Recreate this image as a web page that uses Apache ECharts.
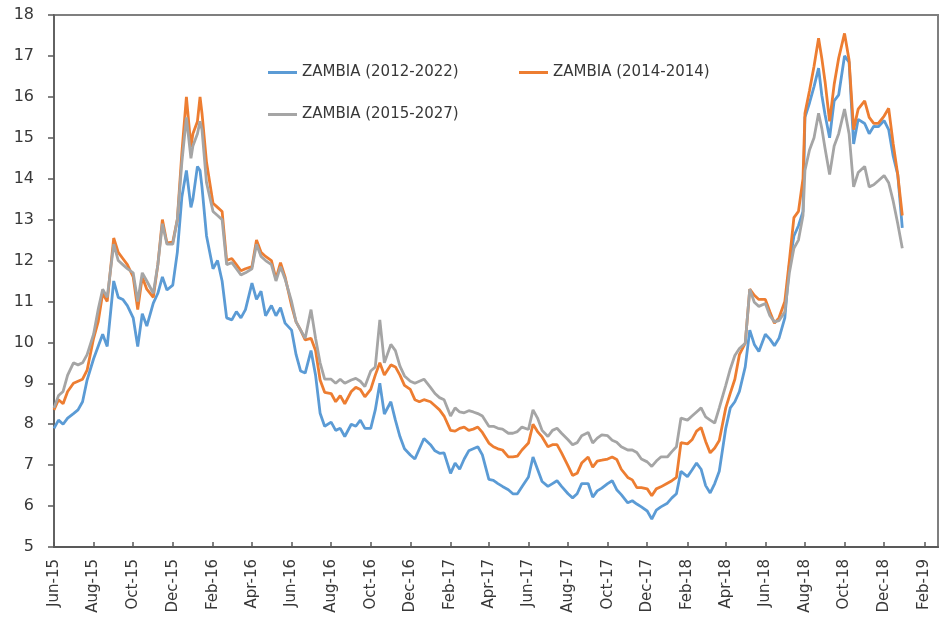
<!DOCTYPE html>
<html><head><meta charset="utf-8">
<script src="https://cdn.jsdelivr.net/npm/echarts@6/dist/echarts.min.js"></script>
<style>html,body{margin:0;padding:0;background:#fff}#c{width:945px;height:618px}</style>
</head><body><div id="c"></div>
<script>
const seriesNames = ['ZAMBIA (2012-2022)', 'ZAMBIA (2014-2014)', 'ZAMBIA (2015-2027)'];
const seriesColors = ['#5B9BD5', '#ED7D31', '#A5A5A5'];

const dates = [
'2015-06-01','2015-06-08','2015-06-15','2015-06-22','2015-07-01','2015-07-08','2015-07-15','2015-07-22',
'2015-08-01','2015-08-08','2015-08-15','2015-08-22','2015-09-01','2015-09-08','2015-09-15','2015-09-22',
'2015-10-01','2015-10-08','2015-10-15','2015-10-22','2015-11-01','2015-11-08','2015-11-15','2015-11-22',
'2015-12-01','2015-12-08','2015-12-15','2015-12-22','2015-12-29','2016-01-01','2016-01-08','2016-01-12','2016-01-15','2016-01-22',
'2016-02-01','2016-02-08','2016-02-15','2016-02-22','2016-03-01','2016-03-08','2016-03-15','2016-03-22',
'2016-04-01','2016-04-08','2016-04-15','2016-04-22','2016-05-01','2016-05-08','2016-05-15','2016-05-22',
'2016-06-01','2016-06-08','2016-06-15','2016-06-22','2016-07-01','2016-07-08','2016-07-15','2016-07-22',
'2016-08-01','2016-08-08','2016-08-15','2016-08-22','2016-09-01','2016-09-08','2016-09-15','2016-09-22',
'2016-10-01','2016-10-08','2016-10-15','2016-10-22','2016-11-01','2016-11-08','2016-11-15','2016-11-22',
'2016-12-01','2016-12-08','2016-12-15','2016-12-22','2017-01-01','2017-01-08','2017-01-15','2017-01-22',
'2017-02-01','2017-02-08','2017-02-15','2017-02-22','2017-03-01','2017-03-08','2017-03-15','2017-03-22',
'2017-04-01','2017-04-08','2017-04-15','2017-04-22','2017-05-01','2017-05-08','2017-05-15','2017-05-22',
'2017-06-01','2017-06-08','2017-06-15','2017-06-22','2017-07-01','2017-07-08','2017-07-15','2017-07-22',
'2017-08-01','2017-08-08','2017-08-15','2017-08-22','2017-09-01','2017-09-08','2017-09-15','2017-09-22',
'2017-10-01','2017-10-08','2017-10-15','2017-10-22','2017-11-01','2017-11-08','2017-11-15','2017-11-22',
'2017-12-01','2017-12-08','2017-12-15','2017-12-22','2018-01-01','2018-01-08','2018-01-15','2018-01-22',
'2018-02-01','2018-02-08','2018-02-15','2018-02-22','2018-03-01','2018-03-08','2018-03-15','2018-03-22',
'2018-04-01','2018-04-08','2018-04-15','2018-04-22','2018-05-01','2018-05-08','2018-05-15','2018-05-22',
'2018-06-01','2018-06-08','2018-06-15','2018-06-22','2018-07-01','2018-07-08','2018-07-15','2018-07-22','2018-07-29',
'2018-08-01','2018-08-08','2018-08-15','2018-08-22','2018-08-27','2018-09-01','2018-09-08','2018-09-15','2018-09-22',
'2018-10-01','2018-10-08','2018-10-15','2018-10-22','2018-11-01','2018-11-08','2018-11-15','2018-11-22',
'2018-12-01','2018-12-08','2018-12-15','2018-12-22','2018-12-29'
];

const zambia2012_2022 = [
7.9,8.1,8.0,8.15,8.26,8.35,8.55,9.08,
9.6,9.9,10.2,9.9,11.5,11.1,11.05,10.9,
10.6,9.9,10.7,10.4,10.96,11.2,11.6,11.28,
11.4,12.2,13.55,14.2,13.3,13.5,14.3,14.2,13.8,12.6,
11.8,12.0,11.5,10.6,10.55,10.75,10.6,10.8,
11.45,11.05,11.25,10.65,10.9,10.65,10.85,10.47,
10.3,9.7,9.3,9.25,9.8,9.2,8.27,7.95,
8.05,7.85,7.9,7.7,8.0,7.95,8.1,7.9,
7.9,8.35,9.0,8.25,8.55,8.1,7.7,7.4,
7.25,7.15,7.4,7.65,7.5,7.35,7.29,7.3,
6.8,7.05,6.9,7.15,7.35,7.4,7.45,7.25,
6.65,6.63,6.55,6.48,6.4,6.3,6.3,6.47,
6.71,7.2,6.9,6.6,6.48,6.55,6.62,6.48,
6.3,6.2,6.3,6.55,6.55,6.22,6.37,6.44,
6.55,6.62,6.4,6.28,6.08,6.13,6.05,5.98,
5.88,5.68,5.9,5.98,6.07,6.2,6.3,6.85,
6.72,6.88,7.05,6.9,6.5,6.32,6.55,6.85,
7.9,8.4,8.55,8.8,9.4,10.3,9.95,9.78,
10.2,10.08,9.92,10.1,10.6,11.9,12.6,12.85,13.2,
15.5,15.85,16.25,16.7,16.04,15.56,15.0,15.9,16.05,
17.0,16.85,14.85,15.45,15.35,15.1,15.28,15.27,
15.42,15.2,14.55,14.1,12.8
];

const zambia2014_2014 = [
8.35,8.6,8.5,8.8,9.0,9.05,9.1,9.32,
10.1,10.5,11.2,11.0,12.55,12.2,12.05,11.9,
11.6,10.8,11.6,11.3,11.1,11.9,13.0,12.43,
12.45,13.0,14.63,16.0,14.78,15.1,15.4,16.0,15.6,14.4,
13.4,13.3,13.2,12.0,12.05,11.9,11.75,11.8,
11.85,12.5,12.2,12.1,12.0,11.55,11.95,11.6,
10.9,10.5,10.3,10.06,10.1,9.8,9.08,8.78,
8.75,8.55,8.7,8.5,8.8,8.9,8.85,8.67,
8.85,9.2,9.5,9.2,9.45,9.4,9.2,8.95,
8.85,8.6,8.55,8.6,8.55,8.45,8.35,8.2,
7.85,7.83,7.9,7.93,7.85,7.88,7.93,7.8,
7.54,7.45,7.4,7.37,7.2,7.2,7.22,7.37,
7.54,8.0,7.82,7.69,7.45,7.5,7.5,7.3,
6.98,6.75,6.8,7.05,7.2,6.95,7.1,7.12,
7.15,7.2,7.14,6.9,6.7,6.64,6.45,6.45,
6.42,6.25,6.42,6.47,6.56,6.62,6.7,7.55,
7.52,7.62,7.83,7.92,7.58,7.3,7.42,7.6,
8.4,8.76,9.1,9.7,9.98,11.3,11.15,11.05,
11.05,10.75,10.47,10.6,11.0,12.0,13.05,13.2,14.0,
15.6,16.15,16.75,17.43,16.94,16.37,15.4,16.3,16.95,
17.55,16.9,15.2,15.7,15.9,15.5,15.35,15.35,
15.53,15.72,14.85,14.1,13.1
];

const zambia2015_2027 = [
8.4,8.7,8.8,9.2,9.5,9.45,9.5,9.7,
10.2,10.8,11.3,11.1,12.4,12.0,11.9,11.8,
11.7,11.0,11.7,11.5,11.2,11.9,12.9,12.4,
12.4,13.0,14.4,15.5,14.5,14.8,15.1,15.4,15.2,13.9,
13.2,13.1,13.0,11.9,11.95,11.8,11.65,11.7,
11.8,12.4,12.1,12.0,11.9,11.5,11.85,11.55,
11.0,10.5,10.3,10.1,10.8,10.1,9.5,9.1,
9.1,9.0,9.1,9.0,9.08,9.12,9.05,8.92,
9.3,9.4,10.55,9.5,9.95,9.8,9.42,9.18,
9.05,9.0,9.05,9.1,8.9,8.75,8.65,8.6,
8.2,8.4,8.3,8.28,8.33,8.3,8.26,8.2,
7.95,7.95,7.9,7.88,7.78,7.78,7.82,7.93,
7.87,8.35,8.15,7.85,7.7,7.85,7.9,7.78,
7.62,7.5,7.55,7.72,7.8,7.54,7.66,7.74,
7.72,7.61,7.56,7.45,7.37,7.37,7.31,7.15,
7.08,6.97,7.1,7.2,7.2,7.33,7.45,8.15,
8.1,8.2,8.3,8.4,8.18,8.1,8.03,8.4,
8.95,9.35,9.68,9.85,9.98,11.3,10.98,10.88,
10.95,10.65,10.5,10.53,10.75,11.7,12.3,12.5,13.1,
14.2,14.7,15.0,15.6,15.23,14.74,14.1,14.8,15.1,
15.7,15.1,13.8,14.15,14.3,13.8,13.85,13.95,
14.08,13.9,13.45,12.9,12.3
];

const tickDates = ['2015-06-01','2015-08-01','2015-10-01','2015-12-01','2016-02-01','2016-04-01','2016-06-01',
'2016-08-01','2016-10-01','2016-12-01','2017-02-01','2017-04-01','2017-06-01','2017-08-01','2017-10-01',
'2017-12-01','2018-02-01','2018-04-01','2018-06-01','2018-08-01','2018-10-01','2018-12-01','2019-02-01'];
const tickLabels = ['Jun-15','Aug-15','Oct-15','Dec-15','Feb-16','Apr-16','Jun-16','Aug-16','Oct-16','Dec-16',
'Feb-17','Apr-17','Jun-17','Aug-17','Oct-17','Dec-17','Feb-18','Apr-18','Jun-18','Aug-18','Oct-18','Dec-18','Feb-19'];
const xMin = '2015-06-01', xMax = '2019-02-22';
const yMin = 5, yMax = 18, yStep = 1;

function ts(s) { const p = s.split('-'); return Date.UTC(+p[0], +p[1] - 1, +p[2]); }
const tickTs = tickDates.map(ts);
function tickLabel(v) {
  let best = 0, bd = Infinity;
  tickTs.forEach((t, i) => { const d = Math.abs(t - v); if (d < bd) { bd = d; best = i; } });
  return tickLabels[best];
}
const values = [zambia2012_2022, zambia2014_2014, zambia2015_2027];
const textColor = '#383838';
const font = "'DejaVu Sans', 'Open Sans', sans-serif";

const chart = echarts.init(document.getElementById('c'), null, { renderer: 'canvas' });
const legendPos = [[263, 60], [514, 60], [263, 102]];
chart.setOption({
  animation: false,
  backgroundColor: '#ffffff',
  textStyle: { fontFamily: font },
  grid: { left: 54, right: 7, top: 15, bottom: 71, show: true, borderColor: '#7f7f7f', borderWidth: 2, outerBoundsMode: 'none', containLabel: false },
  legend: seriesNames.map((n, i) => ({
    data: [n], left: legendPos[i][0], top: legendPos[i][1], icon: 'rect', itemWidth: 29, itemHeight: 3,
    textStyle: { fontSize: 15, color: textColor, fontFamily: font }, selectedMode: false
  })),
  xAxis: {
    type: 'value', min: ts(xMin), max: ts(xMax),
    axisLine: { show: true, lineStyle: { color: '#595959', width: 2 } },
    axisTick: { show: true, inside: true, length: 5, lineStyle: { color: '#595959', width: 1.5 }, customValues: tickTs },
    axisLabel: { rotate: 90, margin: 12, fontSize: 15, color: textColor, fontFamily: font, customValues: tickTs, formatter: tickLabel, hideOverlap: false },
    splitLine: { show: false }
  },
  yAxis: {
    type: 'value', min: yMin, max: yMax, interval: yStep,
    axisLine: { show: true, lineStyle: { color: '#595959', width: 1.5 } },
    axisTick: { show: true, inside: false, length: 6, lineStyle: { color: '#595959', width: 1.5 } },
    axisLabel: { margin: 20, fontSize: 16, color: textColor, fontFamily: font },
    splitLine: { show: false }
  },
  series: seriesNames.map((n, i) => ({
    name: n, type: 'line', symbol: 'none', showSymbol: false,
    data: dates.map((d, j) => [ts(d), values[i][j]]),
    lineStyle: { color: seriesColors[i], width: 2.8 }, itemStyle: { color: seriesColors[i] },
    z: 2 + i
  }))
});
</script></body></html>
